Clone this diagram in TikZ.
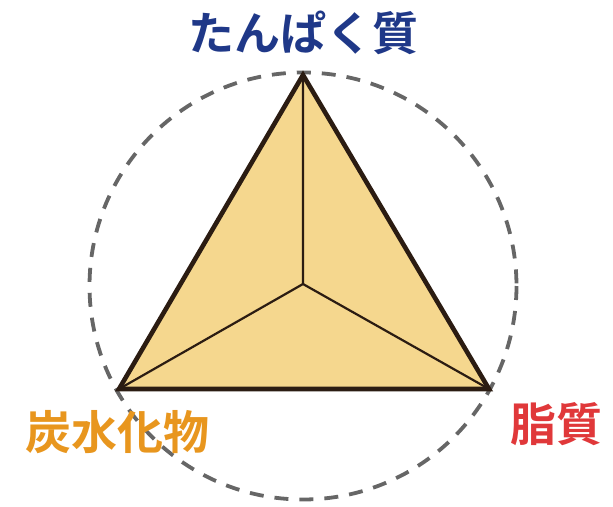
\documentclass[tikz,border=0pt]{standalone}
\usepackage{fontspec}
\newfontfamily\cjk{Noto Sans CJK JP}[BoldFont={Noto Sans CJK JP Bold}]
\definecolor{navy}{HTML}{1F3888}
\definecolor{orng}{HTML}{E8961E}
\definecolor{rd}{HTML}{E0383A}
\definecolor{tri}{HTML}{F5D78E}
\definecolor{edge}{HTML}{2B1C12}
\tikzset{
  lbl/.style={font=\cjk\bfseries\fontsize{46}{50}\selectfont, inner sep=0pt, anchor=center},
  circ/.style={draw=black!60, line width=3.8pt, dash pattern=on 14pt off 11pt},
  outer/.style={draw=edge, line width=4.6pt, fill=tri, line join=miter},
  inner/.style={draw=edge, line width=2.2pt}
}
\begin{document}
\begin{tikzpicture}[x=1pt,y=-1pt]
\useasboundingbox (0,0) rectangle (613,506);
\coordinate (c) at (303,286);
\draw[circ] (c) circle (213.5);
\coordinate (A) at (303,75);
\coordinate (B) at (119,389);
\coordinate (C) at (489,389);
\coordinate (O) at (303,284);
\draw[outer] (A) -- (B) -- (C) -- cycle;
\draw[inner] (A) -- (O) (B) -- (O) (C) -- (O);
\node[lbl, text=navy] (p) at (303,33) {たんぱく質};
\node[lbl, text=orng] (k) at (117,432) {炭水化物};
\node[lbl, text=rd] (s) at (556,424) {脂質};
\end{tikzpicture}
\end{document}
